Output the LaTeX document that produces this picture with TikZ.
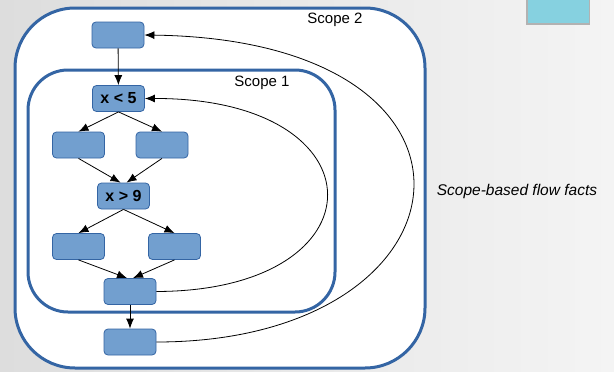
\documentclass[tikz,border=0pt]{standalone}
\usepackage{fontspec}
\setmainfont{Liberation Sans}
\usetikzlibrary{arrows.meta,calc}
\definecolor{boxfill}{HTML}{729FCF}
\definecolor{boxline}{HTML}{3465A4}
\definecolor{frameline}{HTML}{3465A4}
\definecolor{tabcyan}{HTML}{86D1E0}
\definecolor{bgleft}{HTML}{DDDDDD}
\definecolor{bgright}{HTML}{F4F4F4}

\begin{document}
\begin{tikzpicture}[x=1pt,y=-1pt,
  blk/.style={draw=boxline,fill=boxfill,line width=0.8pt,rounded corners=4pt,
    minimum width=52pt,minimum height=26pt,inner sep=0pt,
    font=\fontsize{16}{18}\selectfont\bfseries},
  flow/.style={-{Latex[length=10pt,width=8pt]},line width=0.8pt},
  back/.style={-{Latex[length=10pt,width=8pt]},line width=0.8pt},
  frame/.style={draw=frameline,fill=white,line width=3pt},
  lbl/.style={font=\fontsize{15}{18}\selectfont}]

% slide background
\shade[left color=bgleft,right color=bgright] (0,0) rectangle (614,372);
\useasboundingbox (0,0) rectangle (614,372);

% tab in the upper right corner
\fill[black!30] (525.5,0) rectangle (589.5,24.5);
\fill[tabcyan] (527.5,0) rectangle (589,23);

% scope frames
\draw[frame,rounded corners=60pt] (15,8) rectangle (425,368);
\draw[frame,rounded corners=40pt] (28,70) rectangle (335,312);

% labels
\node[lbl] (s2) at (335,20) {Scope 2};
\node[lbl] (s1) at (262,83) {Scope 1};
\node[lbl,font=\fontsize{15.5}{18}\selectfont\itshape] (facts) at (517,191) {Scope-based flow facts};

% basic blocks
\node[blk] (top) at (118,35) {};
\node[blk] (x5)  at (118.5,98.5) {x < 5};
\node[blk] (r2l) at (78.5,145) {};
\node[blk] (r2r) at (162,145) {};
\node[blk] (x9)  at (123.5,196) {x > 9};
\node[blk] (r4l) at (78.5,246.5) {};
\node[blk] (r4r) at (174.5,246.5) {};
\node[blk] (bi)  at (130,291.5) {};
\node[blk] (bo)  at (130,342) {};

% forward edges
\draw[flow] (top) -- (x5);
\draw[flow] (x5.south) -- (r2l.north);
\draw[flow] (x5.south) -- (r2r.north);
\draw[flow] (r2l.south) -- ($(x9.north)+(-3,0)$);
\draw[flow] (r2r.south) -- ($(x9.north)+(3,0)$);
\draw[flow] (x9.south) -- (r4l.north);
\draw[flow] (x9.south) -- (r4r.north);
\draw[flow] (r4l.south) -- ($(bi.north)+(-3,0)$);
\draw[flow] (r4r.south) -- ($(bi.north)+(3,0)$);
\draw[flow] (bi) -- (bo);

% back edges
\draw[back] (bi.east) .. controls (385,291) and (385,98) .. (x5.east);
\draw[back] (bo.east) .. controls (480,342) and (520,40) .. (top.east);
\end{tikzpicture}
\end{document}
